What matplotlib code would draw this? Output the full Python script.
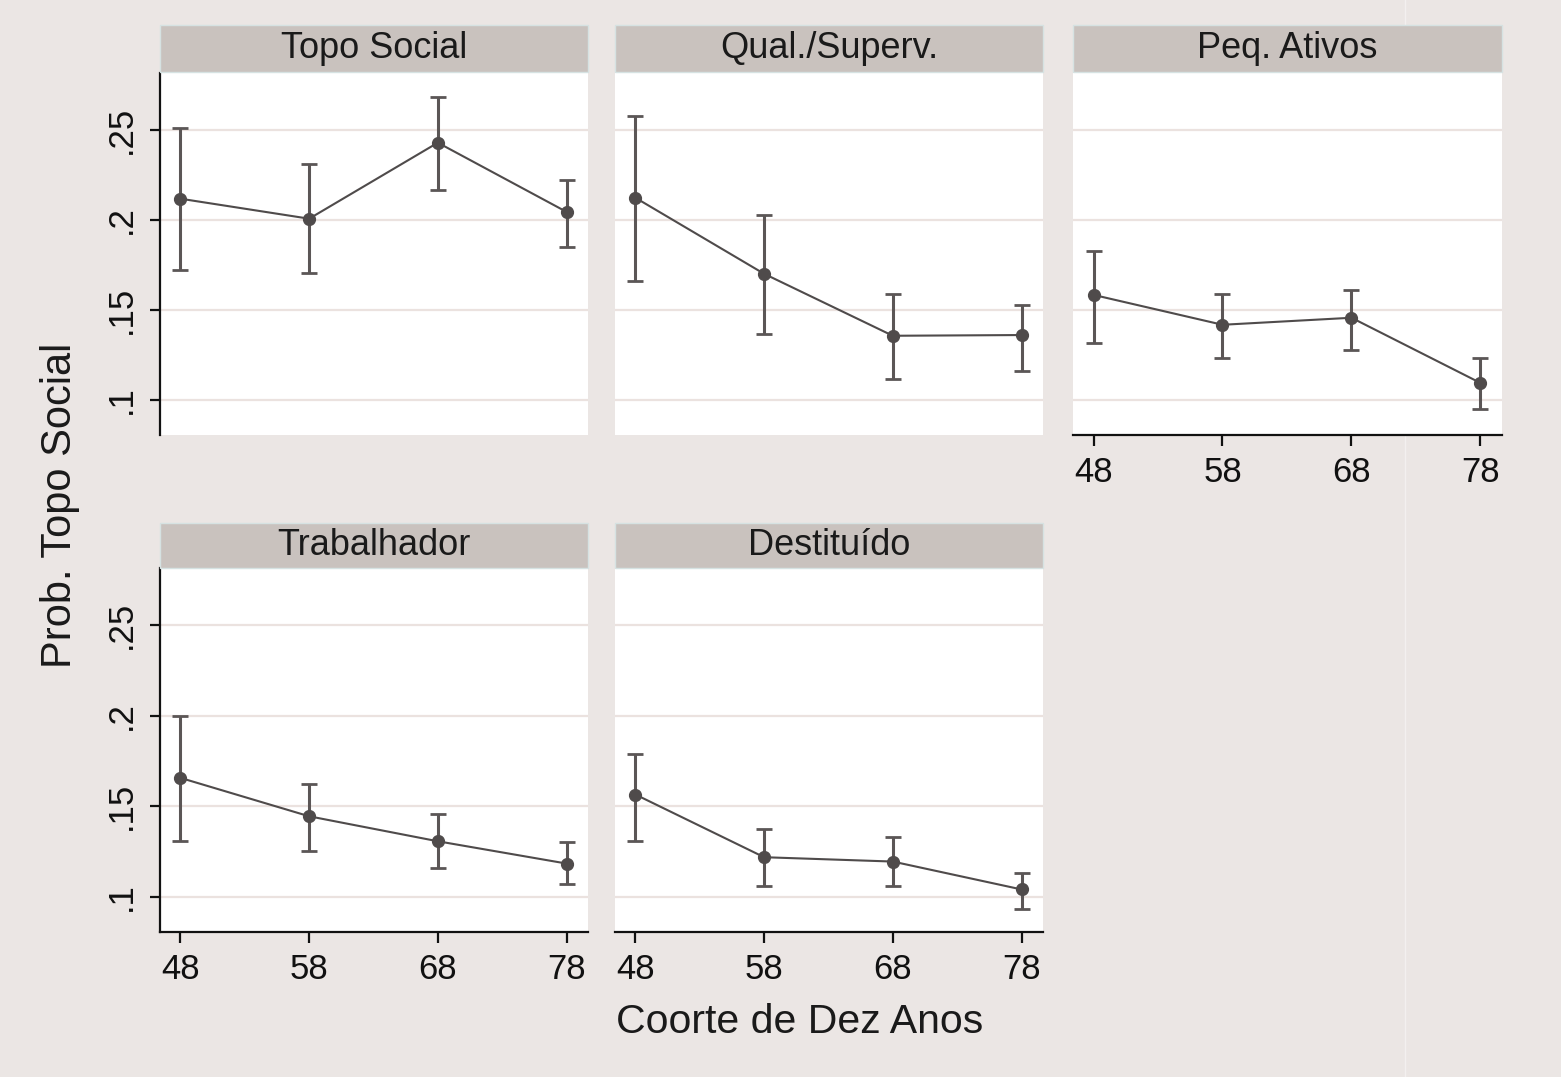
import matplotlib
matplotlib.use("Agg")
import matplotlib.pyplot as plt
from matplotlib.patches import Rectangle
from matplotlib.lines import Line2D
import numpy as np

plt.rcParams['font.family'] = ['Liberation Sans', 'DejaVu Sans']

cohorts = [48, 58, 68, 78]
panels = ["Topo Social", "Qual./Superv.", "Peq. Ativos", "Trabalhador", "Destituído"]

topo_est = [0.2117, 0.2006, 0.2428, 0.2044]
topo_lo = [0.1720, 0.1706, 0.2167, 0.1850]
topo_hi = [0.2510, 0.2310, 0.2680, 0.2220]

qual_est = [0.2122, 0.1700, 0.1356, 0.1360]
qual_lo = [0.1660, 0.1367, 0.1117, 0.1160]
qual_hi = [0.2578, 0.2028, 0.1590, 0.1528]

peq_est = [0.1583, 0.1417, 0.1456, 0.1094]
peq_lo = [0.1317, 0.1233, 0.1278, 0.0950]
peq_hi = [0.1828, 0.1590, 0.1610, 0.1233]

trab_est = [0.1656, 0.1444, 0.1306, 0.1183]
trab_lo = [0.1306, 0.1250, 0.1161, 0.1072]
trab_hi = [0.2000, 0.1622, 0.1456, 0.1300]

dest_est = [0.1564, 0.1218, 0.1194, 0.1040]
dest_lo = [0.1307, 0.1059, 0.1059, 0.0930]
dest_hi = [0.1790, 0.1376, 0.1330, 0.1129]

ytick_vals = [0.10, 0.15, 0.20, 0.25]
ytick_labels = [".1", ".15", ".2", ".25"]

series = [
    (topo_est, topo_lo, topo_hi),
    (qual_est, qual_lo, qual_hi),
    (peq_est, peq_lo, peq_hi),
    (trab_est, trab_lo, trab_hi),
    (dest_est, dest_lo, dest_hi),
]

W, H = 1561, 1077
fig = plt.figure(figsize=(W / 100, H / 100), dpi=100)
BG = "#EBE6E4"
fig.patch.set_facecolor(BG)

STRIP = "#C9C2BE"
GRID = "#EBE2DF"
MARK = "#4F4B4B"
ERR = "#5B5656"

cols_px = [(160, 588), (615, 1043), (1073, 1502)]
rows_px = [((73, 435), (25, 72)), ((568, 932), (523, 568))]
positions = [(0, 0), (0, 1), (0, 2), (1, 0), (1, 1)]

for i, (name, (est, lo, hi)) in enumerate(zip(panels, series)):
    r, c = positions[i]
    (y0, y1), (s0, s1) = rows_px[r]
    x0, x1 = cols_px[c]
    ax = fig.add_axes([x0 / W, 1 - y1 / H, (x1 - x0) / W, (y1 - y0) / H])
    ax.set_facecolor("white")
    est = np.array(est); lo = np.array(lo); hi = np.array(hi)
    ax.errorbar(cohorts, est, yerr=[est - lo, hi - est], fmt='o-',
                color=MARK, ecolor=ERR, elinewidth=2.2, capsize=6,
                capthick=2.0, markersize=8.5, linewidth=1.5, zorder=3)
    ax.set_xlim(46.41, 79.67)
    ax.set_ylim(0.0805, 0.2815)
    ax.set_yticks(ytick_vals)
    ax.set_xticks(cohorts)
    for yv in ytick_vals:
        ax.axhline(yv, color=GRID, lw=1.6, zorder=1)
    for sp in ax.spines.values():
        sp.set_visible(False)
    show_left = (c == 0)
    show_bottom = (i in (2, 3, 4))
    if show_left:
        ax.spines['left'].set_visible(True)
        ax.spines['left'].set_linewidth(1.6)
        ax.spines['left'].set_color("#111111")
        ax.set_yticklabels(ytick_labels, rotation=90, va='center', fontsize=25)
        ax.tick_params(axis='y', length=7, width=1.6, pad=9, colors="#111111")
    else:
        ax.tick_params(axis='y', left=False, labelleft=False)
    if show_bottom:
        ax.spines['bottom'].set_visible(True)
        ax.spines['bottom'].set_linewidth(1.6)
        ax.spines['bottom'].set_color("#111111")
        ax.set_xticklabels([str(v) for v in cohorts], fontsize=25)
        ax.tick_params(axis='x', length=8, width=1.6, pad=7, colors="#111111")
    else:
        ax.tick_params(axis='x', bottom=False, labelbottom=False)
    # strip
    fig.patches.append(Rectangle((x0 / W, 1 - s1 / H), (x1 - x0) / W, (s1 - s0) / H,
                                 transform=fig.transFigure, facecolor=STRIP,
                                 edgecolor="#D6E2E2", linewidth=1.0, zorder=0))
    fig.text((x0 + x1) / 2 / W, 1 - (s0 + s1) / 2 / H, name, ha='center', va='center',
             fontsize=26, color="#1a1a1a")

fig.text(60 / W, 1 - 505 / H, "Prob. Topo Social", rotation=90, ha='center', va='center',
         fontsize=30, color="#1a1a1a")
fig.text(800 / W, 1 - 1022 / H, "Coorte de Dez Anos", ha='center', va='center',
         fontsize=29.5, color="#1a1a1a")

fig.lines.append(Line2D([1405 / W, 1405 / W], [0, 1], transform=fig.transFigure,
                        color="#F3F0EF", lw=1.0, zorder=-1))

fig.savefig("out.png", dpi=100, facecolor=fig.get_facecolor())
